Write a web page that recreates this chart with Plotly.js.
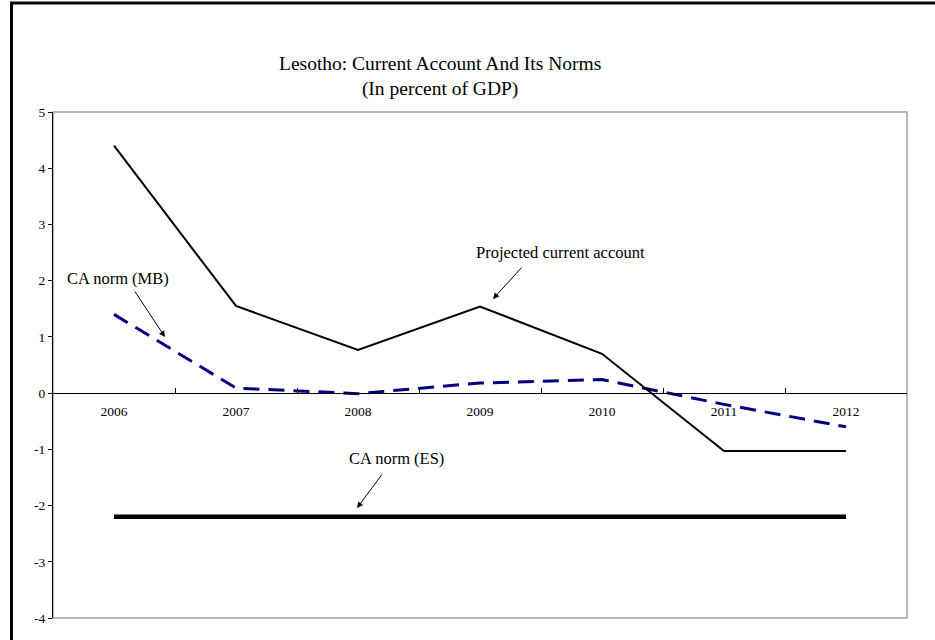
<!DOCTYPE html>
<html>
<head>
<meta charset="utf-8">
<script src="https://cdn.plot.ly/plotly-3.0.1.min.js"></script>
<style>html,body{margin:0;padding:0;background:#fff;}#chart{width:935px;height:640px;}</style>
</head>
<body>
<div id="chart"></div>
<script>
var years = ['2006', '2007', '2008', '2009', '2010', '2011', '2012'];
var projectedCA = [4.4, 1.55, 0.77, 1.54, 0.7, -1.03, -1.03];
var caNormMB = [1.4, 0.09, -0.01, 0.18, 0.24, -0.2, -0.6];
var caNormES = [-2.2, -2.2, -2.2, -2.2, -2.2, -2.2, -2.2];
var yTicks = [5, 4, 3, 2, 1, 0, -1, -2, -3, -4];

var serif = 'Liberation Serif';

var traces = [
  {x: years, y: caNormES, type: 'scatter', mode: 'lines', name: 'CA norm (ES)',
   line: {color: '#000000', width: 4.5}},
  {x: years, y: caNormMB, type: 'scatter', mode: 'lines', name: 'CA norm (MB)',
   line: {color: '#000080', width: 3, dash: '16px,9px'}},
  {x: years, y: projectedCA, type: 'scatter', mode: 'lines', name: 'Projected current account',
   line: {color: '#000000', width: 2}}
];

var layout = {
  width: 935, height: 640,
  margin: {l: 53, r: 28, t: 112, b: 22},
  paper_bgcolor: '#ffffff', plot_bgcolor: '#ffffff',
  showlegend: false,
  font: {family: serif, color: '#000000', size: 13.5},
  xaxis: {
    type: 'category', anchor: 'free', position: 4/9,
    range: [-0.5, 6.5],
    showline: true, linecolor: '#000000', linewidth: 1,
    ticks: 'inside', tickson: 'boundaries', ticklen: 5, tickcolor: '#000000',
    showgrid: false, zeroline: false, fixedrange: true, ticklabelstandoff: 6,
    tickfont: {family: serif, size: 13.5, color: '#000000'}
  },
  yaxis: {
    range: [-4, 5], tickvals: yTicks, ticktext: yTicks.map(String),
    showline: true, linecolor: '#000000', linewidth: 1,
    ticks: 'outside', ticklen: 4, tickcolor: '#000000',
    showgrid: false, zeroline: false, fixedrange: true,
    tickfont: {family: serif, size: 13.5, color: '#000000'}
  },
  shapes: [
    {type: 'rect', xref: 'paper', yref: 'paper', x0: 0, x1: 1, y0: 0, y1: 1,
     line: {color: '#a0a0a0', width: 1.5}, layer: 'below'},
    {type: 'path', xref: 'paper', yref: 'paper',
     path: 'M -0.0486 -0.2 L -0.0486 1.2154 L 1.2 1.2154',
     line: {color: '#000000', width: 3}, layer: 'below'}
  ],
  annotations: [
    {xref: 'paper', yref: 'paper', x: 0.4532, y: 1.0702, xanchor: 'center', yanchor: 'middle',
     text: 'Lesotho: Current Account And Its Norms<br>(In percent of GDP)', showarrow: false,
     font: {family: serif, size: 19.5, color: '#000000'}},
    {xref: 'paper', yref: 'paper', x: 0.5937, y: 0.7233, xanchor: 'center', yanchor: 'middle',
     text: 'Projected current account', showarrow: false,
     font: {family: serif, size: 16.5, color: '#000000'}},
    {xref: 'paper', yref: 'paper', x: 0.0761, y: 0.6719, xanchor: 'center', yanchor: 'middle',
     text: 'CA norm (MB)', showarrow: false,
     font: {family: serif, size: 16.5, color: '#000000'}},
    {xref: 'paper', yref: 'paper', x: 0.4028, y: 0.3162, xanchor: 'center', yanchor: 'middle',
     text: 'CA norm (ES)', showarrow: false,
     font: {family: serif, size: 16.5, color: '#000000'}},
    {xref: 'paper', yref: 'paper', x: 0.5152, y: 0.6304, ax: 30, ay: -33, text: '',
     showarrow: true, arrowhead: 2, arrowsize: 1.2, arrowwidth: 1, arrowcolor: '#000000'},
    {xref: 'paper', yref: 'paper', x: 0.1311, y: 0.5553, ax: -31, ay: -47, text: '',
     showarrow: true, arrowhead: 2, arrowsize: 1.2, arrowwidth: 1, arrowcolor: '#000000'},
    {xref: 'paper', yref: 'paper', x: 0.356, y: 0.2174, ax: 26, ay: -35, text: '',
     showarrow: true, arrowhead: 2, arrowsize: 1.2, arrowwidth: 1, arrowcolor: '#000000'}
  ]
};

Plotly.newPlot('chart', traces, layout, {displayModeBar: false, staticPlot: true});
</script>
</body>
</html>
